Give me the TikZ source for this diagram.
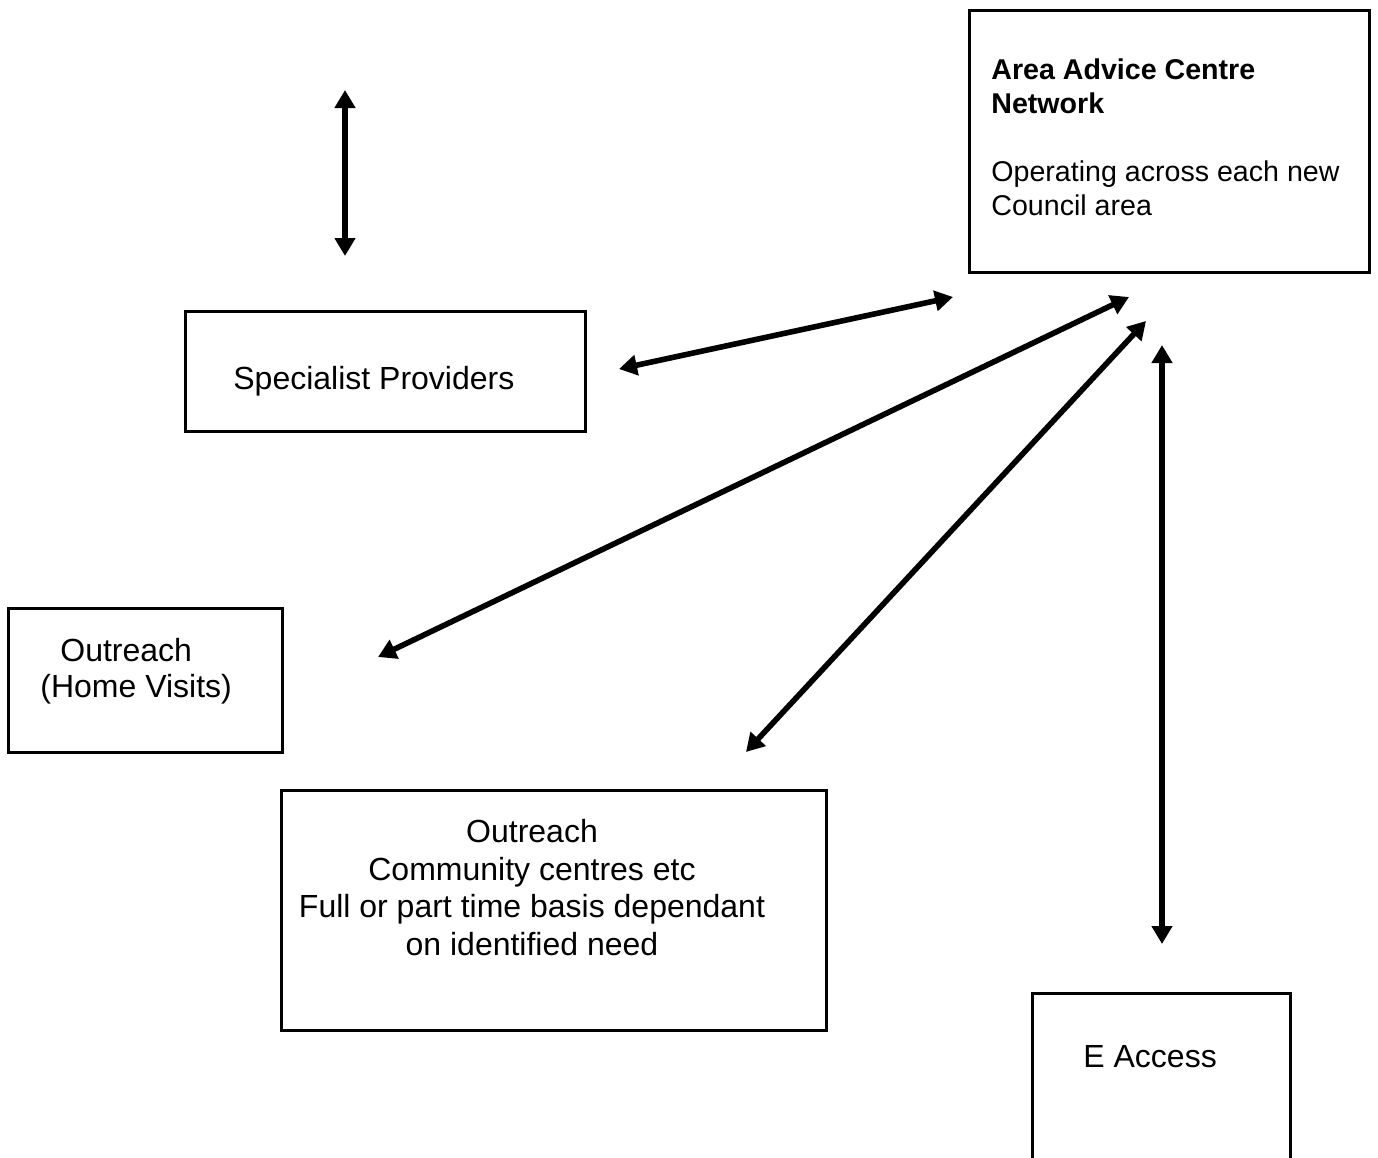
\documentclass[tikz,border=0pt]{standalone}
\usepackage{fontspec}
\setmainfont{Liberation Sans}
\usetikzlibrary{arrows.meta, positioning}

\tikzset{
    box/.style={
        rectangle, draw=black, line width=1.5pt, inner sep=0pt
    },
    boxtext/.style={
        inner sep=0pt, align=center, font=\fontsize{16pt}{18.75pt}\selectfont
    },
    areatext/.style={
        inner sep=0pt, align=left, font=\fontsize{14.3pt}{16.8pt}\selectfont
    },
    arrow/.style={
        line width=2.8pt, {Triangle[length=9pt,width=10pt]}-{Triangle[length=9pt,width=10pt]}
    }
}

\begin{document}
\begin{tikzpicture}[x=0.5pt, y=-0.5pt]

    \useasboundingbox (0,0) rectangle (1378,1158);

    % Boxes
    \node[box, minimum width=200pt, minimum height=131pt] (area) at (1169,141) {};
    \node[box, minimum width=200pt, minimum height=60pt] (specialist) at (385,371) {};
    \node[box, minimum width=137pt, minimum height=72pt] (home) at (145,680) {};
    \node[box, minimum width=272.5pt, minimum height=120pt] (community) at (553.5,910) {};
    \node[box, minimum width=129pt, minimum height=95pt] (eaccess) at (1161,1088) {};

    % Box texts
    \node[areatext, anchor=base west] (areatitle) at (991,113) {\textbf{Area Advice Centre}\\\textbf{Network}};
    \node[areatext, anchor=base west] (areanote) at (991,215) {Operating across each new\\Council area};
    \node[boxtext, anchor=base west] (spectext) at (233,389) {Specialist Providers};
    \node[boxtext, anchor=base west] (hometext) at (60,661) {Outreach};
    \node[boxtext, anchor=base west] (hometext2) at (40,697) {(Home Visits)};
    \node[boxtext, anchor=base] (commtext) at (532,955) {Outreach\\Community centres etc\\Full or part time basis dependant\\on identified need};
    \node[boxtext, anchor=base west] (etext) at (1083,1067) {E Access};

    % Arrow ends
    \coordinate (top1) at (345,90);
    \coordinate (top2) at (345,256);
    \coordinate (spec1) at (619,369);
    \coordinate (spec2) at (953,297);
    \coordinate (home1) at (378,657);
    \coordinate (home2) at (1129,297);
    \coordinate (comm1) at (746,752);
    \coordinate (comm2) at (1146,321);
    \coordinate (eacc1) at (1162,345);
    \coordinate (eacc2) at (1162,944);

    % Arrows
    \draw[arrow] (top1) -- (top2);
    \draw[arrow] (spec1) -- (spec2);
    \draw[arrow] (home1) -- (home2);
    \draw[arrow] (comm1) -- (comm2);
    \draw[arrow] (eacc1) -- (eacc2);

\end{tikzpicture}
\end{document}
